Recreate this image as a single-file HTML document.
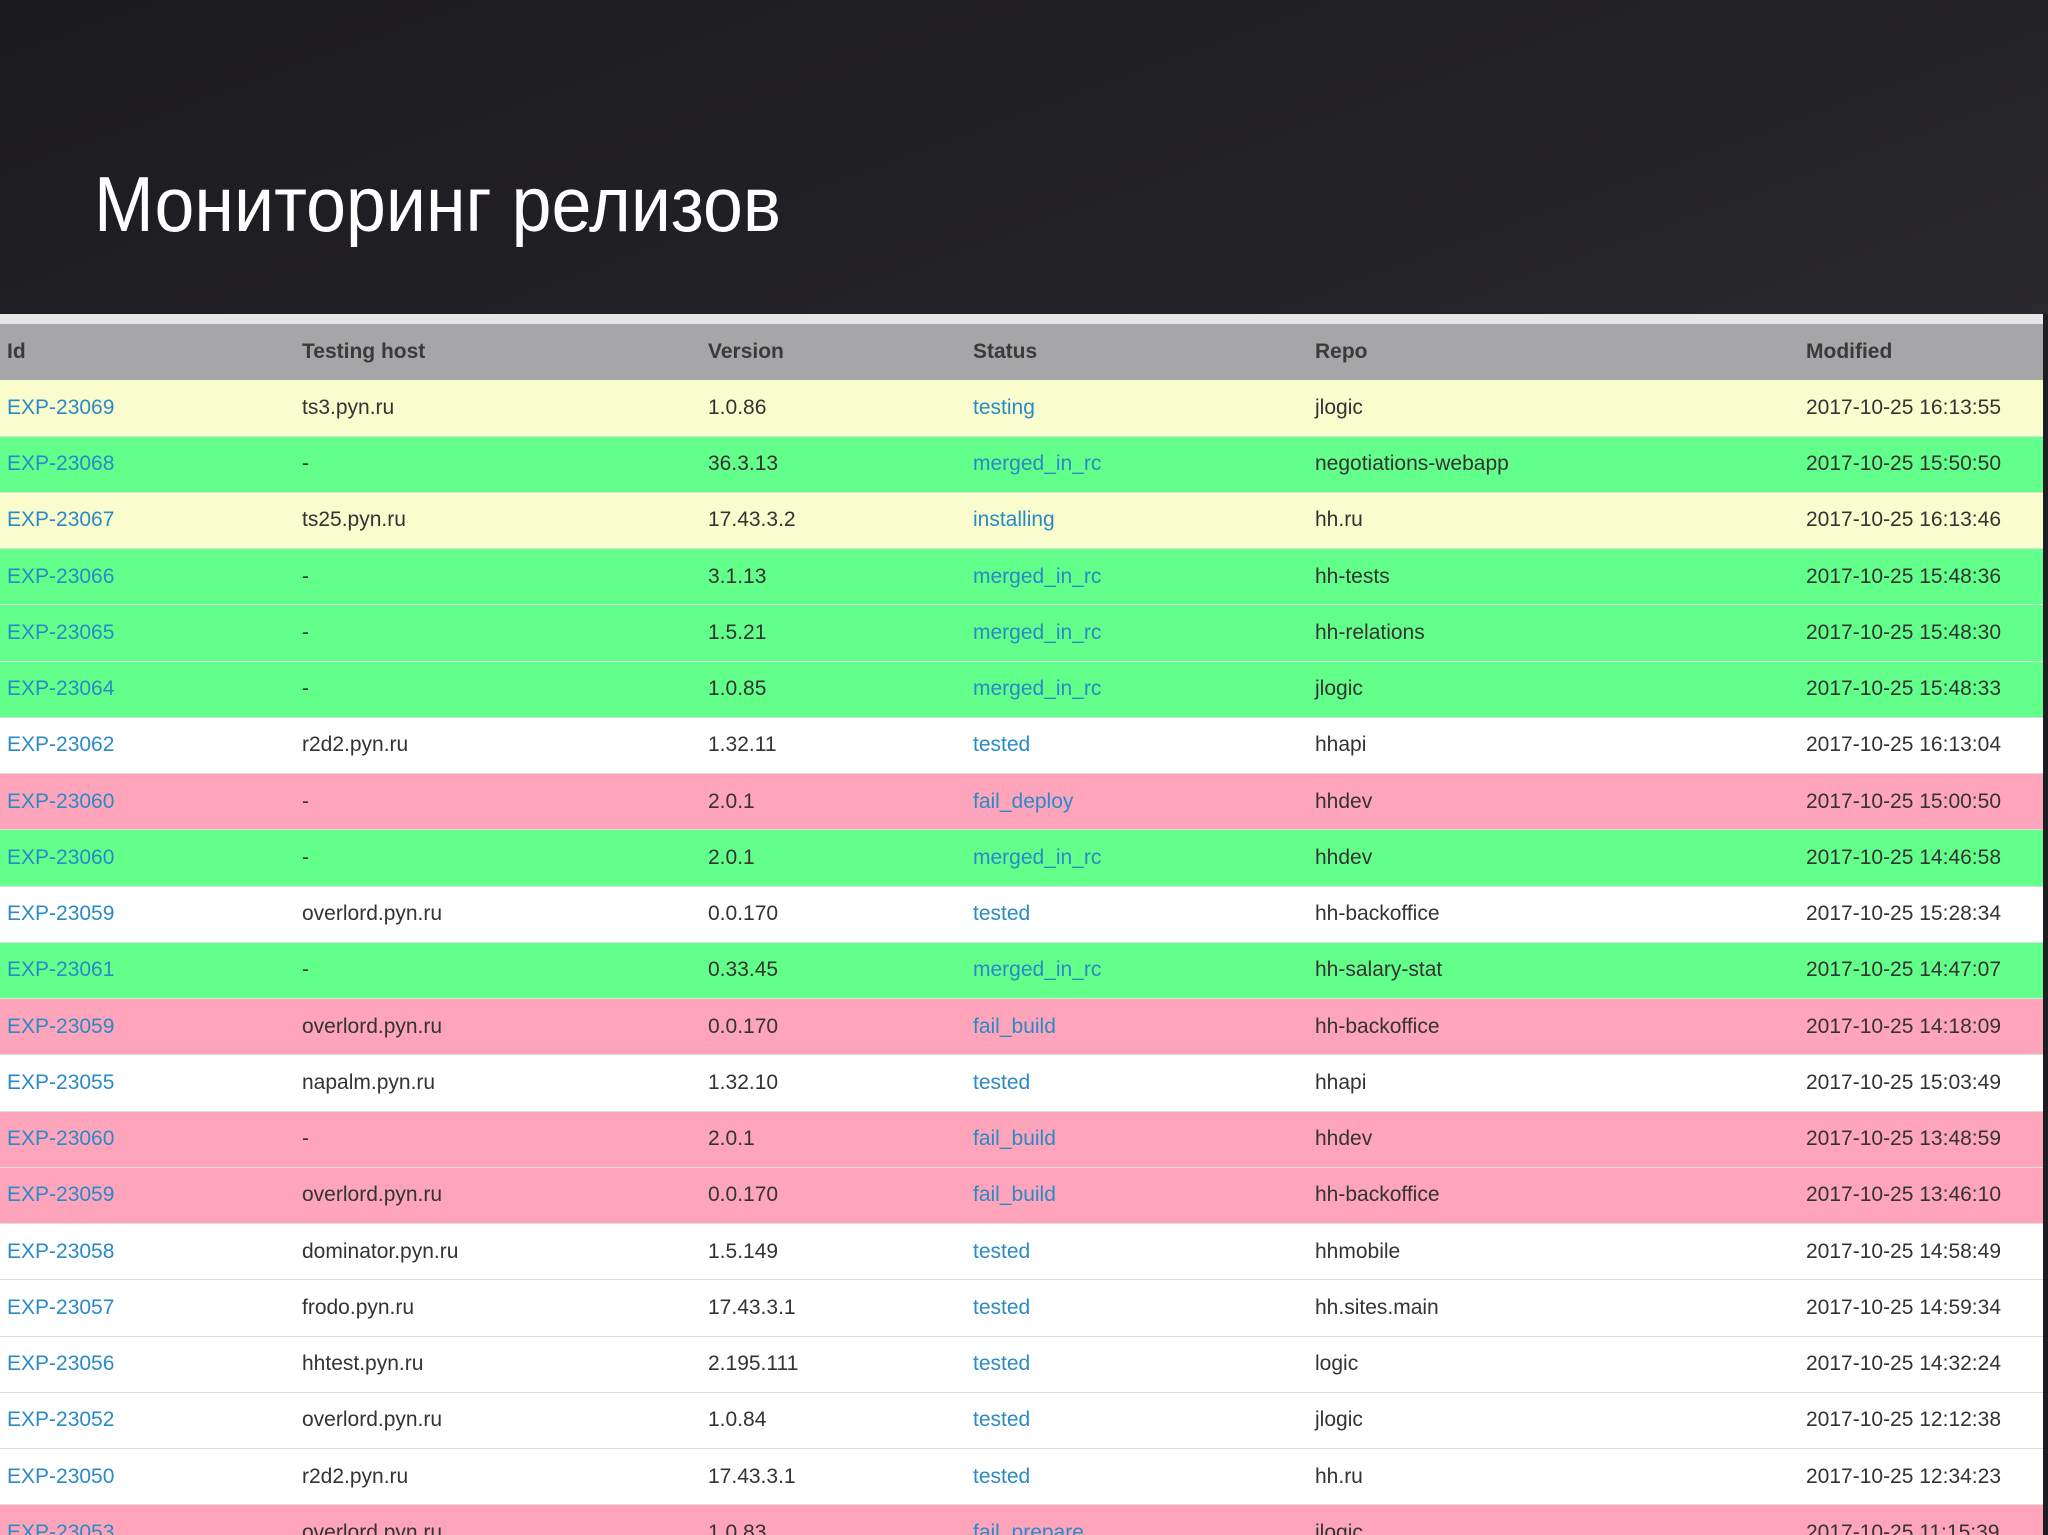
<!DOCTYPE html>
<html><head><meta charset="utf-8"><style>
html,body{margin:0;width:2048px;height:1535px;overflow:hidden}
body{background:#1e1d21;font-family:"Liberation Sans",sans-serif;position:relative}
#hdr{position:absolute;left:0;top:0;width:2048px;height:314px;background:linear-gradient(160deg,#1c1b1f 0%,#222125 60%,#2a292d 100%)}
#strip{position:absolute;left:0;top:314px;width:2043px;height:10px;background:#e6e6e6}
#tbl{position:absolute;left:0;top:324px;width:2043px}
.row{position:relative;height:56.25px;border-bottom:1px solid #ddd;box-sizing:border-box;font-size:21px;color:#333}
.row span{position:absolute;top:50%;transform:translateY(-50%);white-space:nowrap}
.h{background:#a6a5a7;font-weight:bold;color:#3a3a3a;border:none}
.a{color:#2a8ac8}
.y{background:#f9fccc}.g{background:#62ff8a}.w{background:#fff}.p{background:#fea5bb}
</style></head><body>
<div id="hdr">
<svg width="2048" height="314" style="position:absolute;left:0;top:0">
<text x="94" y="231" font-size="78" fill="#fff" font-family="Liberation Sans, sans-serif" textLength="687" lengthAdjust="spacingAndGlyphs">Мониторинг релизов</text>
</svg></div>
<div id="strip"></div>
<div id="tbl"></div>
<script>
const ids=["EXP-23069","EXP-23068","EXP-23067","EXP-23066","EXP-23065","EXP-23064","EXP-23062","EXP-23060","EXP-23060","EXP-23059","EXP-23061","EXP-23059","EXP-23055","EXP-23060","EXP-23059","EXP-23058","EXP-23057","EXP-23056","EXP-23052","EXP-23050","EXP-23053"];
const hosts=["ts3.pyn.ru","-","ts25.pyn.ru","-","-","-","r2d2.pyn.ru","-","-","overlord.pyn.ru","-","overlord.pyn.ru","napalm.pyn.ru","-","overlord.pyn.ru","dominator.pyn.ru","frodo.pyn.ru","hhtest.pyn.ru","overlord.pyn.ru","r2d2.pyn.ru","overlord.pyn.ru"];
const versions=["1.0.86","36.3.13","17.43.3.2","3.1.13","1.5.21","1.0.85","1.32.11","2.0.1","2.0.1","0.0.170","0.33.45","0.0.170","1.32.10","2.0.1","0.0.170","1.5.149","17.43.3.1","2.195.111","1.0.84","17.43.3.1","1.0.83"];
const statuses=["testing","merged_in_rc","installing","merged_in_rc","merged_in_rc","merged_in_rc","tested","fail_deploy","merged_in_rc","tested","merged_in_rc","fail_build","tested","fail_build","fail_build","tested","tested","tested","tested","tested","fail_prepare"];
const repos=["jlogic","negotiations-webapp","hh.ru","hh-tests","hh-relations","jlogic","hhapi","hhdev","hhdev","hh-backoffice","hh-salary-stat","hh-backoffice","hhapi","hhdev","hh-backoffice","hhmobile","hh.sites.main","logic","jlogic","hh.ru","jlogic"];
const modified=["2017-10-25 16:13:55","2017-10-25 15:50:50","2017-10-25 16:13:46","2017-10-25 15:48:36","2017-10-25 15:48:30","2017-10-25 15:48:33","2017-10-25 16:13:04","2017-10-25 15:00:50","2017-10-25 14:46:58","2017-10-25 15:28:34","2017-10-25 14:47:07","2017-10-25 14:18:09","2017-10-25 15:03:49","2017-10-25 13:48:59","2017-10-25 13:46:10","2017-10-25 14:58:49","2017-10-25 14:59:34","2017-10-25 14:32:24","2017-10-25 12:12:38","2017-10-25 12:34:23","2017-10-25 11:15:39"];
const colX=[7,302,708,973,1315,1806];
const tbl=document.getElementById('tbl');
function cls(s){if(s==='merged_in_rc')return 'g';if(s.startsWith('fail'))return 'p';if(s==='tested')return 'w';return 'y';}
const hr=document.createElement('div');hr.className='row h';


["Id","Testing host","Version","Status","Repo","Modified"].forEach((t,i)=>{const s=document.createElement('span');s.textContent=t;s.style.left=colX[i]+'px';


hr.appendChild(s);});
tbl.appendChild(hr);
ids.forEach((id,r)=>{
 const row=document.createElement('div');row.className='row '+cls(statuses[r]);
 
 
 const vals=[id,hosts[r],versions[r],statuses[r],repos[r],modified[r]];
 vals.forEach((v,i)=>{const s=document.createElement('span');s.textContent=v;s.style.left=colX[i]+'px';
  if(i===0||i===3){s.className='a';
   
   }
  else{
   
   }
  row.appendChild(s);});
 tbl.appendChild(row);
});
</script>
</body></html>
